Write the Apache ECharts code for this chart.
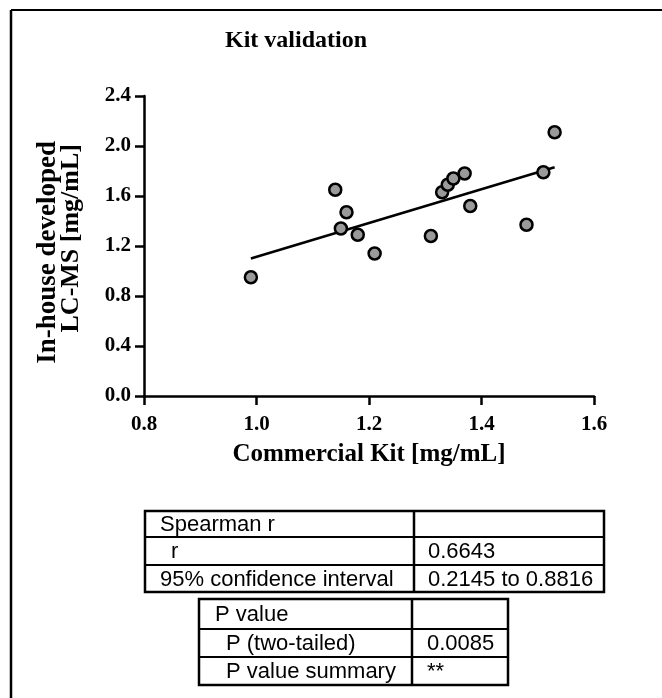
<!DOCTYPE html>
<html><head><meta charset="utf-8">
<script src="https://cdn.jsdelivr.net/npm/echarts@6/dist/echarts.min.js"></script>
<style>html,body{margin:0;padding:0;background:#fff}#c{width:662px;height:698px}</style>
</head><body><div id="c"></div>
<script>
// ---- data ----
const titleText = 'Kit validation';
const xName = 'Commercial Kit [mg/mL]';
const yNameLines = ['In-house developed', 'LC-MS [mg/mL]'];
const commercialKit = [0.99, 1.14, 1.16, 1.15, 1.18, 1.21, 1.31, 1.33, 1.34, 1.35, 1.37, 1.38, 1.48, 1.51, 1.53];
const inHouseLCMS  = [0.95, 1.65, 1.47, 1.34, 1.29, 1.14, 1.28, 1.63, 1.69, 1.74, 1.78, 1.52, 1.37, 1.79, 2.11];
const fitX = [0.99, 1.53];
const fitY = [1.10, 1.83];
const xTicks = [0.8, 1.0, 1.2, 1.4, 1.6];
const yTicks = [0.0, 0.4, 0.8, 1.2, 1.6, 2.0, 2.4];
const spearmanLabels = ['Spearman r', 'r', '95% confidence interval'];
const spearmanValues = ['', '0.6643', '0.2145 to 0.8816'];
const pLabels = ['P value', 'P (two-tailed)', 'P value summary'];
const pValues = ['', '0.0085', '**'];

// ---- layout ----
const serif = "'Liberation Serif','Times New Roman',serif";
const sans = "'Liberation Sans',Arial,sans-serif";
const chart = echarts.init(document.getElementById('c'), null, {renderer: 'canvas'});

const scatterData = commercialKit.map((x, i) => [x, inHouseLCMS[i]]);
const fitData = fitX.map((x, i) => [x, fitY[i]]);

function table(x0, x1, xDiv, ys, labels, values, indents, valX) {
  const els = [];
  els.push({type: 'rect', shape: {x: x0, y: ys[0], width: x1 - x0, height: ys[ys.length - 1] - ys[0]},
    style: {fill: 'none', stroke: '#000', lineWidth: 2.5}, z: 10});
  els.push({type: 'line', shape: {x1: xDiv, y1: ys[0], x2: xDiv, y2: ys[ys.length - 1]},
    style: {stroke: '#000', lineWidth: 2.5}, z: 10});
  for (let i = 1; i < ys.length - 1; i++) {
    els.push({type: 'line', shape: {x1: x0, y1: ys[i], x2: x1, y2: ys[i]},
      style: {stroke: '#000', lineWidth: 2}, z: 10});
  }
  labels.forEach((t, i) => {
    const cy = (ys[i] + ys[i + 1]) / 2 + 1;
    els.push({type: 'text', x: indents[i], y: cy, z: 11,
      style: {text: t, fill: '#000', font: '22px ' + sans, textAlign: 'left', textVerticalAlign: 'middle'}});
    if (values[i]) {
      els.push({type: 'text', x: valX, y: cy, z: 11,
        style: {text: values[i], fill: '#000', font: '22px ' + sans, textAlign: 'left', textVerticalAlign: 'middle'}});
    }
  });
  return els;
}

const graphics = [
  {type: 'line', shape: {x1: 11, y1: 10, x2: 662, y2: 10}, style: {stroke: '#000', lineWidth: 2}},
  {type: 'line', shape: {x1: 11, y1: 10, x2: 11, y2: 698}, style: {stroke: '#000', lineWidth: 2.5}},
  {type: 'text', x: 48, y: 141, rotation: Math.PI / 2,
    style: {text: yNameLines[0], fill: '#000', font: 'bold 27px ' + serif, textAlign: 'right', textVerticalAlign: 'middle'}},
  {type: 'text', x: 71, y: 144, rotation: Math.PI / 2,
    style: {text: yNameLines[1], fill: '#000', font: 'bold 26px ' + serif, textAlign: 'right', textVerticalAlign: 'middle'}},
  ...table(145, 604, 414, [511, 537, 565, 592], spearmanLabels, spearmanValues, [160, 171, 160], 428),
  ...table(199, 508, 412, [599, 629, 657, 685], pLabels, pValues, [215, 226, 226], 427)
];

const axisCommon = {
  type: 'value',
  axisLine: {show: true, onZero: false, lineStyle: {color: '#000', width: 2.5}},
  axisTick: {show: true, length: 9, lineStyle: {color: '#000', width: 2.5}},
  splitLine: {show: false},
  axisLabel: {color: '#000', fontFamily: serif, fontWeight: 'bold', fontSize: 21,
    showMinLabel: true, showMaxLabel: true, formatter: v => v.toFixed(1)}
};

chart.setOption({
  animation: false,
  backgroundColor: '#fff',
  title: {text: titleText, left: 291, top: 24, textAlign: 'center',
    textStyle: {fontFamily: serif, fontWeight: 'bold', fontSize: 24, color: '#000'}},
  grid: {left: 144, right: 68, top: 96, bottom: 302, containLabel: false},
  xAxis: Object.assign({}, axisCommon, {
    min: xTicks[0], max: xTicks[xTicks.length - 1], interval: xTicks[1] - xTicks[0],
    name: xName, nameLocation: 'middle', nameGap: 46,
    nameTextStyle: {fontFamily: serif, fontWeight: 'bold', fontSize: 25, color: '#000'},
    axisLabel: Object.assign({}, axisCommon.axisLabel, {margin: 18})
  }),
  yAxis: Object.assign({}, axisCommon, {
    min: yTicks[0], max: yTicks[yTicks.length - 1], interval: yTicks[1] - yTicks[0],
    axisLabel: Object.assign({}, axisCommon.axisLabel, {margin: 13})
  }),
  series: [
    {type: 'line', data: fitData, showSymbol: false, symbol: 'none', silent: true,
      lineStyle: {color: '#000', width: 2.5}, z: 2},
    {type: 'scatter', data: scatterData, symbol: 'circle', symbolSize: 12,
      itemStyle: {color: '#9a9a9a', borderColor: '#000', borderWidth: 2.5, opacity: 1}, z: 3}
  ],
  graphic: graphics
});
</script>
</body></html>
